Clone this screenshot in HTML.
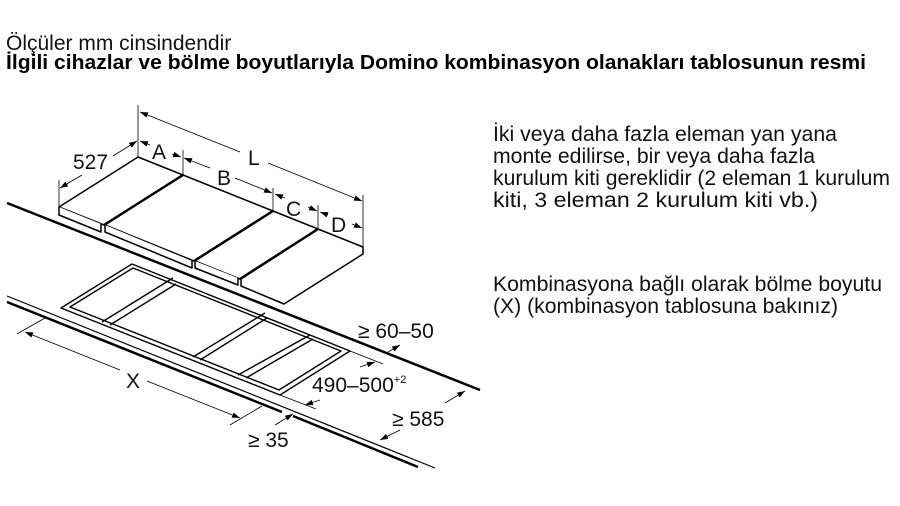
<!DOCTYPE html>
<html><head><meta charset="utf-8"><style>
body{margin:0;background:#fff;}
svg{display:block;font-family:"Liberation Sans",Arial,sans-serif;}
</style></head><body>
<svg width="900" height="506" viewBox="0 0 900 506">
<defs><marker id="a" viewBox="0 0 10 10" refX="10" refY="5" markerWidth="10" markerHeight="10" orient="auto-start-reverse"><path d="M0,1.5 L10,5 L0,8.5z" fill="#000"/></marker></defs>
<text x="6" y="50" font-size="21" fill="#111">Ölçüler mm cinsindendir</text>
<text x="6" y="69" font-size="20" font-weight="bold" fill="#000" textLength="860" lengthAdjust="spacingAndGlyphs">İlgili cihazlar ve bölme boyutlarıyla Domino kombinasyon olanakları tablosunun resmi</text>
<g font-size="21" fill="#111">
<text x="493" y="141" textLength="344" lengthAdjust="spacingAndGlyphs">İki veya daha fazla eleman yan yana</text>
<text x="493" y="163" textLength="322" lengthAdjust="spacingAndGlyphs">monte edilirse, bir veya daha fazla</text>
<text x="493" y="185" textLength="397" lengthAdjust="spacingAndGlyphs">kurulum kiti gereklidir (2 eleman 1 kurulum</text>
<text x="493" y="207" textLength="325" lengthAdjust="spacingAndGlyphs">kiti, 3 eleman 2 kurulum kiti vb.)</text>
<text x="493" y="291" textLength="389" lengthAdjust="spacingAndGlyphs">Kombinasyona bağlı olarak bölme boyutu</text>
<text x="493" y="313" textLength="345" lengthAdjust="spacingAndGlyphs">(X) (kombinasyon tablosuna bakınız)</text>
</g>
<g stroke="#000" fill="none" stroke-linejoin="round">
<line x1="7" y1="203" x2="480" y2="390" stroke-width="2.5"/>
<line x1="7" y1="296" x2="435" y2="468" stroke-width="1.2"/>
<line x1="7" y1="302" x2="282" y2="412" stroke-width="2.5"/>
<line x1="293" y1="416" x2="418" y2="467" stroke-width="2.5"/>
<g stroke-width="1.5" fill="#fff">
<path d="M59,207 L138,157 L183,175 L104,225 Z"/>
<path d="M59,207 L59,215 L101,232 L101,224"/>
<path d="M105,225 L183,175 L273,211 L194,261 Z"/>
<path d="M105,225 L105,232 L192,268 L192,261"/>
<path d="M195,261 L273,211 L318,229 L240,279 Z"/>
<path d="M195,261 L195,268 L238,285 L238,278"/>
<path d="M241,279 L318,229 L363,247 L284,297 Z"/>
<path d="M241,279 L241,286 L284,304 L363,254 L363,247"/>
</g>
<path d="M104,225 L183,175 M194,261 L273,211 M240,279 L318,229" stroke-width="2.5"/>
<g stroke-width="1.4">
<path d="M61,308 L132,264 L350,351 L280,395 Z"/>
<path d="M70,307 L133,268 L341,351 L279,390 Z"/>
<path d="M102,322 L173,278 M110,325 L176,284"/>
<path d="M193,357 L265,313 M200,360 L267,318"/>
<path d="M238,375 L310,335 M246,378 L313,339"/>
</g>
<g stroke-width="0.8">
<line x1="138" y1="157" x2="138" y2="105"/>
<line x1="363" y1="247" x2="363" y2="195"/>
<line x1="183" y1="175" x2="183" y2="150"/>
<line x1="273" y1="211" x2="273" y2="188"/>
<line x1="318" y1="229" x2="318" y2="205"/>
<line x1="59" y1="207" x2="59" y2="180"/>
<line x1="140" y1="112" x2="240" y2="152" marker-start="url(#a)"/>
<line x1="268" y1="163" x2="362" y2="201" marker-end="url(#a)"/>
<line x1="140" y1="141" x2="150" y2="145" marker-start="url(#a)"/>
<line x1="172" y1="154" x2="181" y2="157" marker-end="url(#a)"/>
<line x1="184" y1="158" x2="210" y2="168" marker-start="url(#a)"/>
<line x1="235" y1="178" x2="272" y2="193" marker-end="url(#a)"/>
<line x1="275" y1="194" x2="285" y2="198" marker-start="url(#a)"/>
<line x1="308" y1="207" x2="317" y2="211" marker-end="url(#a)"/>
<line x1="320" y1="212" x2="328" y2="215" marker-start="url(#a)"/>
<line x1="352" y1="224" x2="362" y2="228" marker-end="url(#a)"/>
<line x1="60" y1="188" x2="82" y2="175" marker-start="url(#a)"/>
<line x1="113" y1="156" x2="137" y2="141" marker-end="url(#a)"/>
<line x1="17" y1="334" x2="45" y2="318"/>
<line x1="25" y1="332" x2="120" y2="370" marker-start="url(#a)"/>
<line x1="147" y1="381" x2="240" y2="418" marker-end="url(#a)"/>
<line x1="230" y1="425" x2="262" y2="406"/>
<line x1="275" y1="425" x2="293" y2="414" marker-end="url(#a)"/>
<line x1="350" y1="351" x2="383" y2="364"/>
<line x1="280" y1="395" x2="316" y2="409"/>
<line x1="360" y1="367" x2="375" y2="362" marker-end="url(#a)"/>
<line x1="305" y1="405" x2="320" y2="400" marker-start="url(#a)"/>
<line x1="388" y1="352" x2="400" y2="345" marker-end="url(#a)"/>
<line x1="380" y1="440" x2="400" y2="430" marker-start="url(#a)"/>
<line x1="445" y1="403" x2="465" y2="391" marker-end="url(#a)"/>
</g>
</g>
<g font-size="21" fill="#111">
<text x="73" y="169">527</text>
<text x="152" y="159">A</text>
<text x="217" y="185">B</text>
<text x="286" y="216">C</text>
<text x="331" y="232">D</text>
<text x="248" y="165">L</text>
<text x="126" y="388">X</text>
<text x="358" y="338">≥ 60–50</text>
<text x="312" y="392">490–500<tspan font-size="11" dy="-9">+2</tspan></text>
<text x="392" y="426">≥ 585</text>
<text x="248" y="447">≥ 35</text>
</g>
</svg>
</body></html>
